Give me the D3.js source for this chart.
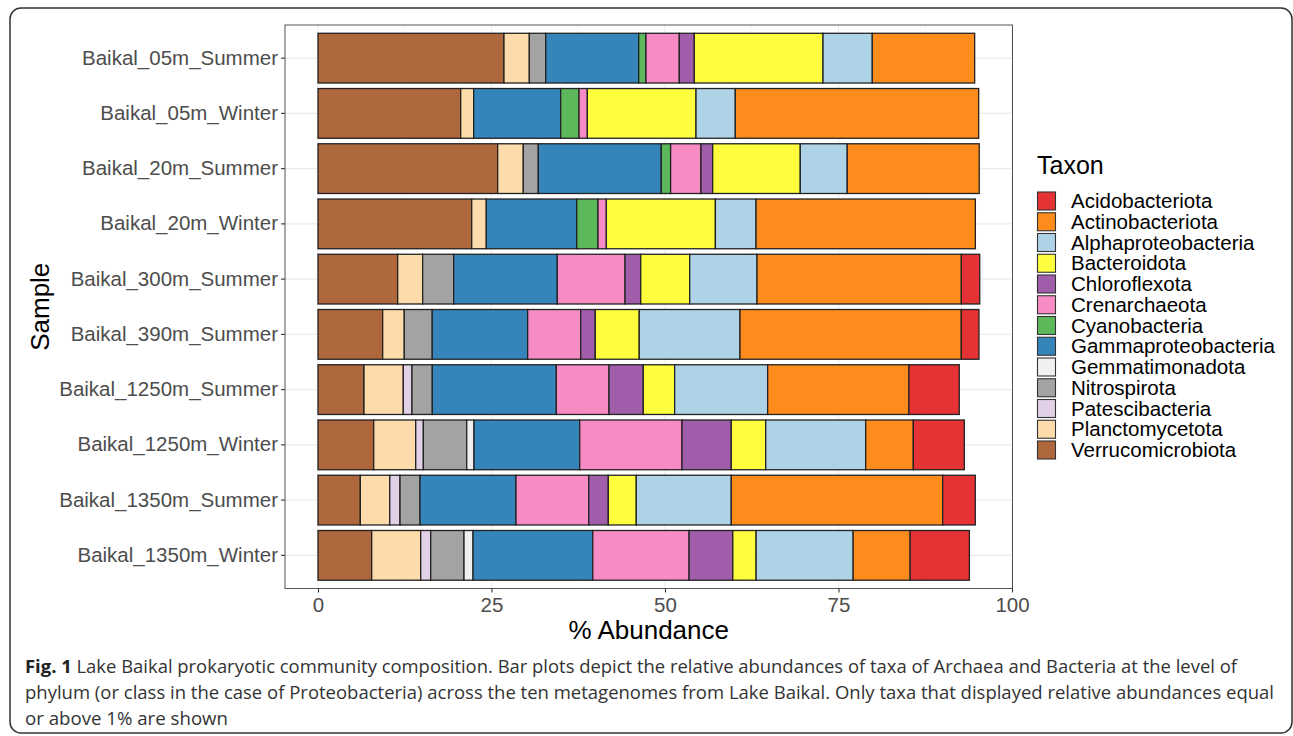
<!DOCTYPE html>
<html>
<head>
<meta charset="utf-8">
<script src="https://cdn.jsdelivr.net/npm/d3@7"></script>
<style>
    body { margin: 0; background: #fff; }
    svg text { font-family: "Liberation Sans", Arial, Helvetica, sans-serif; }
    .caption text { font-family: "Open Sans", "Noto Sans", sans-serif; }
</style>
</head>
<body>
<div id="chart"></div>
<script>
// samples, top to bottom
let samples = ["Baikal_05m_Summer", "Baikal_05m_Winter", "Baikal_20m_Summer", "Baikal_20m_Winter",
    "Baikal_300m_Summer", "Baikal_390m_Summer", "Baikal_1250m_Summer", "Baikal_1250m_Winter",
    "Baikal_1350m_Summer", "Baikal_1350m_Winter"];

// legend order
let taxa = ["Acidobacteriota", "Actinobacteriota", "Alphaproteobacteria", "Bacteroidota", "Chloroflexota",
    "Crenarchaeota", "Cyanobacteria", "Gammaproteobacteria", "Gemmatimonadota", "Nitrospirota",
    "Patescibacteria", "Planctomycetota", "Verrucomicrobiota"];

let taxaColors = ["#e53234", "#fd8c1c", "#afd3e6", "#fefe3f", "#a05daa", "#f78cc5", "#5db75b",
    "#3585bb", "#f0f0f0", "#a3a3a3", "#e1d0e6", "#fddbaa", "#af673d"];

// % abundance per sample (same order as samples)
let acidobacteriota     = [0, 0, 0, 0, 2.65, 2.55, 7.25, 7.35, 4.7, 8.54];
let actinobacteriota    = [14.75, 35.07, 19.02, 31.6, 29.44, 31.89, 20.36, 6.86, 30.46, 8.21];
let alphaproteobacteria = [7.1, 5.66, 6.77, 5.86, 9.7, 14.51, 13.4, 14.41, 13.69, 13.98];
let bacteroidota        = [18.55, 15.66, 12.62, 15.71, 7.06, 6.34, 4.52, 4.96, 4.03, 3.36];
let chloroflexota       = [2.16, 0, 1.69, 0, 2.26, 2.1, 4.94, 7.1, 2.82, 6.3];
let crenarchaeota       = [4.8, 1.2, 4.37, 1.2, 9.76, 7.64, 7.59, 14.74, 10.48, 13.88];
let cyanobacteria       = [1.05, 2.64, 1.35, 3.07, 0, 0, 0, 0, 0, 0];
let gammaproteobacteria = [13.4, 12.54, 17.72, 13.03, 14.93, 13.75, 17.87, 15.23, 13.83, 17.25];
let gemmatimonadota     = [0, 0, 0, 0, 0, 0, 0, 1.05, 0, 1.3];
let nitrospirota        = [2.36, 0, 2.16, 0, 4.47, 4.03, 2.93, 6.25, 2.88, 4.8];
let patescibacteria     = [0, 0, 0, 0, 0, 0, 1.25, 1.1, 1.48, 1.44];
let planctomycetota     = [3.65, 1.87, 3.69, 2.1, 3.6, 3.11, 5.66, 6.05, 4.24, 7.06];
let verrucomicrobiota   = [26.8, 20.56, 25.89, 22.15, 11.48, 9.32, 6.63, 8.03, 6.1, 7.74];

let xTicks = [0, 25, 50, 75, 100];

let captionLines = [
    "Lake Baikal prokaryotic community composition. Bar plots depict the relative abundances of taxa of Archaea and Bacteria at the level of",
    "phylum (or class in the case of Proteobacteria) across the ten metagenomes from Lake Baikal. Only taxa that displayed relative abundances equal",
    "or above 1% are shown"
];

class abundanceChart {

    constructor(parentElement) {
        this.parentElement = parentElement;
        this.initVis();
    }

    initVis() {
        let vis = this;

        vis.svg = d3.select("#" + vis.parentElement).append("svg")
            .attr("width", 1293)
            .attr("height", 736);

        // rounded frame round figure + caption
        vis.svg.append("rect")
            .attr("x", 10).attr("y", 8)
            .attr("width", 1282).attr("height", 725)
            .attr("rx", 11)
            .attr("fill", "none")
            .attr("stroke", "#333")
            .attr("stroke-width", 1.5);

        vis.panel = { left: 285, right: 1012.5, top: 25, bottom: 588.5 };

        vis.x = d3.scaleLinear()
            .domain([0, 100])
            .range([318, 1012]);

        vis.y = d3.scaleBand()
            .domain(samples)
            .range([vis.panel.top, vis.panel.bottom])
            .paddingInner(0.1)
            .paddingOuter(0.15);

        // build table for the stack
        let series = {
            "Acidobacteriota": acidobacteriota, "Actinobacteriota": actinobacteriota,
            "Alphaproteobacteria": alphaproteobacteria, "Bacteroidota": bacteroidota,
            "Chloroflexota": chloroflexota, "Crenarchaeota": crenarchaeota,
            "Cyanobacteria": cyanobacteria, "Gammaproteobacteria": gammaproteobacteria,
            "Gemmatimonadota": gemmatimonadota, "Nitrospirota": nitrospirota,
            "Patescibacteria": patescibacteria, "Planctomycetota": planctomycetota,
            "Verrucomicrobiota": verrucomicrobiota
        };
        vis.data = samples.map(function (s, i) {
            let row = { sample: s };
            taxa.forEach(function (t) { row[t] = series[t][i]; });
            return row;
        });

        vis.color = d3.scaleOrdinal().domain(taxa).range(taxaColors);

        vis.updateVis();
    }

    updateVis() {
        let vis = this;
        let p = vis.panel;

        // grid lines
        let grid = vis.svg.append("g");
        [12.5, 37.5, 62.5, 87.5].forEach(function (v) {
            grid.append("line")
                .attr("x1", vis.x(v)).attr("x2", vis.x(v))
                .attr("y1", p.top).attr("y2", p.bottom)
                .attr("stroke", "#f2f2f2").attr("stroke-width", 0.6);
        });
        xTicks.forEach(function (v) {
            grid.append("line")
                .attr("x1", vis.x(v)).attr("x2", vis.x(v))
                .attr("y1", p.top).attr("y2", p.bottom)
                .attr("stroke", "#ebebeb").attr("stroke-width", 1.1);
        });
        samples.forEach(function (s) {
            let cy = vis.y(s) + vis.y.bandwidth() / 2;
            grid.append("line")
                .attr("x1", p.left).attr("x2", p.right)
                .attr("y1", cy).attr("y2", cy)
                .attr("stroke", "#ebebeb").attr("stroke-width", 1.1);
        });

        // stacked bars, Verrucomicrobiota on the left
        let stackKeys = taxa.slice().reverse();
        let stacked = d3.stack().keys(stackKeys)(vis.data);

        let layers = vis.svg.append("g").selectAll("g")
            .data(stacked)
            .join("g")
            .attr("fill", function (d) { return vis.color(d.key); });

        layers.selectAll("rect")
            .data(function (d) { return d.filter(function (e) { return e[1] - e[0] > 0; }); })
            .join("rect")
            .attr("x", function (d) { return vis.x(d[0]); })
            .attr("y", function (d) { return vis.y(d.data.sample); })
            .attr("width", function (d) { return vis.x(d[1]) - vis.x(d[0]); })
            .attr("height", vis.y.bandwidth())
            .attr("stroke", "#222")
            .attr("stroke-width", 1.3);

        // panel border
        vis.svg.append("rect")
            .attr("x", p.left).attr("y", p.top)
            .attr("width", p.right - p.left).attr("height", p.bottom - p.top)
            .attr("fill", "none")
            .attr("stroke", "#555")
            .attr("stroke-width", 1);

        // axes
        let yAxis = vis.svg.append("g")
            .attr("transform", "translate(" + p.left + ",0)")
            .call(d3.axisLeft(vis.y).tickSize(4).tickPadding(3));
        let xAxis = vis.svg.append("g")
            .attr("transform", "translate(0," + p.bottom + ")")
            .call(d3.axisBottom(vis.x).tickValues(xTicks).tickSize(4).tickPadding(5));

        [xAxis, yAxis].forEach(function (ax) {
            ax.select(".domain").remove();
            ax.selectAll(".tick line").attr("stroke", "#333").attr("stroke-width", 1.1);
            ax.selectAll(".tick text")
                .attr("fill", "#4d4d4d")
                .style("font-size", "20.5px")
                .style("font-family", "'Liberation Sans', Arial, sans-serif");
        });

        // axis titles, centred on the panel
        vis.svg.append("text")
            .attr("x", (p.left + p.right) / 2).attr("y", 639)
            .attr("text-anchor", "middle")
            .style("font-size", "26px")
            .text("% Abundance");

        vis.svg.append("text")
            .attr("transform", "translate(49," + ((p.top + p.bottom) / 2) + ") rotate(-90)")
            .attr("text-anchor", "middle")
            .style("font-size", "26px")
            .text("Sample");

        // legend
        let legend = vis.svg.append("g").attr("transform", "translate(1037,0)");
        legend.append("text")
            .attr("x", 0).attr("y", 174)
            .style("font-size", "25px")
            .text("Taxon");

        let items = legend.selectAll(".legend-item")
            .data(taxa)
            .join("g")
            .attr("class", "legend-item")
            .attr("transform", function (d, i) { return "translate(0," + (191.5 + i * 20.75) + ")"; });

        items.append("rect")
            .attr("x", 0.5).attr("y", 0.5)
            .attr("width", 18).attr("height", 18)
            .attr("fill", function (d) { return vis.color(d); })
            .attr("stroke", "#333")
            .attr("stroke-width", 1.1);

        items.append("text")
            .attr("x", 34).attr("y", 9.5)
            .attr("dy", "0.35em")
            .style("font-size", "20.5px")
            .text(function (d) { return d; });

        // caption
        let cap = vis.svg.append("g").attr("class", "caption");
        let capWidths = [1212, 1249, 203];
        captionLines.forEach(function (line, i) {
            let t = cap.append("text")
                .attr("x", 25)
                .attr("y", 673 + i * 26)
                .attr("fill", "#333")
                .style("font-size", "18px")
                .attr("textLength", capWidths[i])
                .attr("lengthAdjust", "spacingAndGlyphs");
            if (i === 0) {
                t.append("tspan").style("font-weight", "bold").attr("fill", "#222").text("Fig. 1");
                t.append("tspan").text(" " + line);
            } else {
                t.text(line);
            }
        });
    }
}

new abundanceChart("chart");
</script>
</body>
</html>
